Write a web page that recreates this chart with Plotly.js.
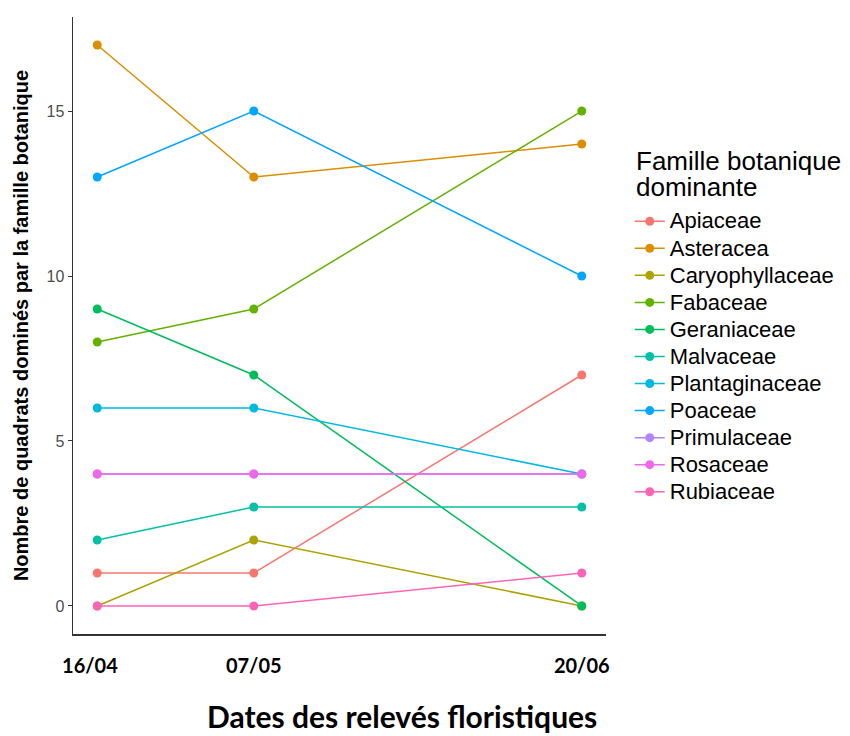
<!DOCTYPE html>
<html>
<head>
<meta charset="utf-8">
<script src="https://cdn.plot.ly/plotly-3.0.1.min.js"></script>
<style>html,body{margin:0;padding:0;background:#fff;}#chart{width:850px;height:736px;}</style>
</head>
<body>
<div id="chart"></div>
<script>
var dates = ["2017-04-16", "2017-05-07", "2017-06-20"];
var dateLabels = ["16/04\u00A0\u00A0\u00A0", "07/05", "20/06"];
var families = ["Apiaceae","Asteracea","Caryophyllaceae","Fabaceae","Geraniaceae","Malvaceae","Plantaginaceae","Poaceae","Primulaceae","Rosaceae","Rubiaceae"];
var colors = ["#F8766D","#DB8E00","#AEA200","#64B200","#00BD5C","#00C1A7","#00BADE","#00A6FF","#B385FF","#EF67EB","#FF63B6"];
var apiaceae = [1, 1, 7];
var asteracea = [17, 13, 14];
var caryophyllaceae = [0, 2, 0];
var fabaceae = [8, 9, 15];
var geraniaceae = [9, 7, 0];
var malvaceae = [2, 3, 3];
var plantaginaceae = [6, 6, 4];
var poaceae = [13, 15, 10];
var primulaceae = [4, 4, 4];
var rosaceae = [4, 4, 4];
var rubiaceae = [0, 0, 1];
var values = [apiaceae, asteracea, caryophyllaceae, fabaceae, geraniaceae, malvaceae, plantaginaceae, poaceae, primulaceae, rosaceae, rubiaceae];

var traces = families.map(function(f, i){
  return {
    x: dates, y: values[i], name: '<span style="font-size:22px">' + f + '</span>',
    type: "scatter", mode: "lines+markers",
    line: {color: colors[i], width: 1.5},
    marker: {color: colors[i], size: 9}
  };
});

var arial = "Liberation Sans, Arial, sans-serif";
var calib = "Lato, 'Open Sans', sans-serif";

var layout = {
  width: 850, height: 736,
  margin: {l: 73, r: 243, t: 17, b: 102},
  paper_bgcolor: "#fff", plot_bgcolor: "#fff",
  showlegend: true,
  xaxis: {
    type: "date",
    range: ["2017-04-12 18:00", "2017-06-23 06:00"],
    tickvals: dates, ticktext: dateLabels,
    showgrid: false, zeroline: false,
    showline: true, linecolor: "#333", linewidth: 1.5,
    ticks: "outside", ticklen: 13, tickcolor: "rgba(0,0,0,0)",
    tickfont: {family: calib, size: 20, color: "#000", weight: "bold"}
  },
  yaxis: {
    range: [-0.85, 17.85],
    tickvals: [0, 5, 10, 15],
    showgrid: false, zeroline: false,
    showline: true, linecolor: "#333", linewidth: 1.5,
    ticks: "outside", ticklen: 4, tickcolor: "#333", tickwidth: 1,
    tickfont: {family: arial, size: 16, color: "#4D4D4D"},
    title: {text: "Nombre de quadrats dominés par la famille botanique",
            font: {family: arial, size: 20, color: "#000", weight: "bold"},
            standoff: 12}
  },
  legend: {
    x: 1.0426, xanchor: "left", y: 0.699, yanchor: "top",
    font: {family: arial, size: 18.5, color: "#000"},
    itemwidth: 30
  },
  annotations: [{
    text: "Dates des relevés floristiques",
    xref: "paper", yref: "paper", x: 0.617, y: -0.1325,
    xanchor: "center", yanchor: "middle", showarrow: false,
    font: {family: calib, size: 30, color: "#000", weight: "bold"}
  }, {
    text: '<span style="font-size:26px">Famille botanique</span><br><span style="font-size:26px">dominante</span>',
    xref: "paper", yref: "paper", x: 1.052, y: 0.745,
    xanchor: "left", yanchor: "middle", align: "left", showarrow: false,
    font: {family: arial, size: 20, color: "#000"}
  }]
};

Plotly.newPlot("chart", traces, layout, {displayModeBar: false, staticPlot: true});
</script>
</body>
</html>
